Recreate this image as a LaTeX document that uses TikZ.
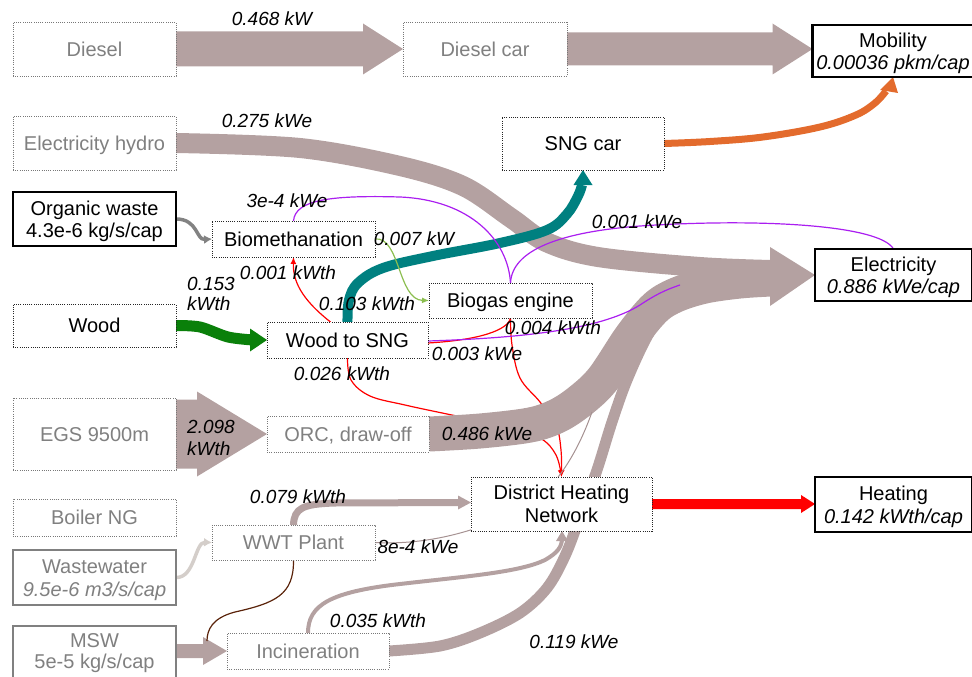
\documentclass[tikz,border=0pt]{standalone}
\usepackage{fontspec}
\setmainfont{Liberation Sans}
\usetikzlibrary{arrows.meta,calc}

\definecolor{flowgrey}{RGB}{180,161,161}
\definecolor{thingrey}{RGB}{165,145,145}
\definecolor{txtgrey}{RGB}{128,128,128}
\definecolor{dotgrey}{RGB}{120,120,120}
\definecolor{sngteal}{RGB}{0,128,128}
\definecolor{carorange}{RGB}{227,107,45}
\definecolor{woodgreen}{RGB}{10,128,10}
\definecolor{elpurple}{RGB}{170,30,240}
\definecolor{heatred}{RGB}{255,0,0}
\definecolor{gasolive}{RGB}{140,190,80}
\definecolor{sludgebrown}{RGB}{90,35,10}
\definecolor{wastegrey}{RGB}{130,130,130}
\definecolor{waterpale}{RGB}{212,206,202}

\newcommand\nodefont{\fontsize{20}{24}\selectfont}
\newcommand\labfont{\fontsize{19}{22}\selectfont\itshape}

\pgfdeclarelayer{under}
\pgfdeclarelayer{flows}
\pgfsetlayers{under,flows,main}

% straight block arrow: #2 start, #3 tip, #4 half shaft, #5 half head, #6 head length
\newcommand\blockarrow[6][flowgrey]{%
  \fill[#1] ($(#2)+(0,-#4)$) -- ($(#3)+(-#6,-#4)$) -- ($(#3)+(-#6,-#5)$) -- (#3)
    -- ($(#3)+(-#6,#5)$) -- ($(#3)+(-#6,#4)$) -- ($(#2)+(0,#4)$) -- cycle;}

\begin{document}
\begin{tikzpicture}[x=1pt,y=-1pt,
  dotbox/.style={draw=black!85, line width=0.9pt, dash pattern=on 0.9pt off 1.3pt,
    fill=white, inner sep=0pt, outer sep=0pt, font=\nodefont,
    text height=14.3pt, text depth=0pt},
  greybox/.style={dotbox, draw=dotgrey, text=txtgrey},
  solidbox/.style={draw=black, line width=2.4pt, fill=white, inner sep=0pt, outer sep=0pt},
  greysolid/.style={solidbox, draw=txtgrey},
  txt/.style={font=\nodefont, anchor=base, inner sep=0pt},
  txti/.style={font=\nodefont\itshape, anchor=base, inner sep=0pt},
  lab/.style={font=\labfont, anchor=base, inner sep=0pt},
  thinflow/.style={line width=1.2pt},
  smalltip/.style={-{Latex[length=7pt,width=6pt]}}]

\useasboundingbox (0,0) rectangle (972,677);

% ---------- units ----------
\node[greybox, minimum width=163pt, minimum height=54pt] (diesel) at (94.5,49) {Diesel};
\node[greybox, minimum width=164pt, minimum height=54pt] (dieselcar) at (485,49) {Diesel car};
\node[solidbox, minimum width=161pt, minimum height=52pt] (mobility) at (893,51) {};
\node[txt] at (893,47.7) {Mobility};
\node[txti] at (893,69.3) {0.00036 pkm/cap};

\node[greybox, minimum width=163pt, minimum height=54pt] (hydro) at (94.5,143) {Electricity hydro};
\node[dotbox, minimum width=162pt, minimum height=53pt] (sngcar) at (583,143.5) {SNG car};

\node[solidbox, minimum width=163pt, minimum height=54pt] (organic) at (94.5,219) {};
\node[txt] at (94.5,215) {Organic waste};
\node[txt] at (94.5,237) {4.3e-6 kg/s/cap};
\node[dotbox, minimum width=163pt, minimum height=36pt] (biometh) at (293.5,239) {Biomethanation};

\node[dotbox, minimum width=163pt, minimum height=43pt] (wood) at (94.5,325.5) {Wood};
\node[dotbox, minimum width=161pt, minimum height=36pt] (woodsng) at (347.5,340) {Wood to SNG};
\node[dotbox, minimum width=163pt, minimum height=35pt] (biogas) at (510.5,300.5) {Biogas engine};

\node[solidbox, minimum width=157pt, minimum height=52pt] (elec) at (893.5,275) {};
\node[txt] at (893.5,271) {Electricity};
\node[txti] at (893.5,293) {0.886 kWe/cap};

\node[greybox, minimum width=163pt, minimum height=72pt] (egs) at (94.5,434) {EGS 9500m};
\node[greybox, minimum width=162pt, minimum height=36pt] (orc) at (348,434) {ORC, draw-off};

\node[dotbox, minimum width=181pt, minimum height=54pt] (dhn) at (561.5,504) {};
\node[txt] at (561.5,499) {District Heating};
\node[txt] at (561.5,522) {Network};
\node[solidbox, minimum width=157pt, minimum height=55pt] (heating) at (893.5,504.5) {};
\node[txt] at (893.5,500.7) {Heating};
\node[txti] at (893.5,523) {0.142 kWth/cap};

\node[greybox, minimum width=163pt, minimum height=37pt] (boiler) at (94.5,517.5) {Boiler NG};
\node[greybox, minimum width=163pt, minimum height=35pt] (wwt) at (293.5,542.5) {WWT Plant};
\node[greysolid, minimum width=163pt, minimum height=55pt] (wastewater) at (94.5,577.5) {};
\node[txt, text=txtgrey] at (94.5,573) {Wastewater};
\node[txti, text=txtgrey] at (94.5,596) {9.5e-6 m3/s/cap};
\node[greysolid, minimum width=163pt, minimum height=52pt] (msw) at (94.5,652) {};
\node[txt, text=txtgrey] at (94.5,647) {MSW};
\node[txt, text=txtgrey] at (94.5,668) {5e-5 kg/s/cap};
\node[greybox, minimum width=162pt, minimum height=36pt] (incin) at (308,651) {Incineration};

% ---------- heat lines running under the electricity band ----------
\begin{pgfonlayer}{under}
\draw[heatred, thinflow, smalltip] plot[smooth, tension=0.6] coordinates
  {(biogas.south) (512,345) (520,378) (540,402) (556,425) (561,450) (dhn.north)};
\draw[heatred, thinflow, smalltip] plot[smooth, tension=0.6] coordinates
  {(woodsng.south) (351,380) (370,396) (405,405) (447,414) (505,426) (540,438) (556,455) (dhn.north)};
\end{pgfonlayer}

\begin{pgfonlayer}{flows}
% electricity bands into the Electricity arrow
\draw[flowgrey, line width=20pt] plot[smooth, tension=0.55] coordinates
  {(hydro.east) (300,148) (400,166) (463,186) (511,218) (546,242) (598,257) (700,267) (771,270)};
\draw[flowgrey, line width=35pt] plot[smooth, tension=0.55] coordinates
  {(orc.east) (480,431) (530,425) (557,416) (580,401) (603,379) (631,337) (655,308) (676,295) (705,286) (740,281) (771,279)};
\draw[flowgrey, line width=11pt] plot[smooth, tension=0.55] coordinates
  {(incin.east) (440,646) (480,633) (520,613) (547,588) (565,556) (580,517) (597,470) (612,422) (627,380) (648,335) (672,300)};
\fill[flowgrey] ($(elec.west)+(-45,-28)$) -- (elec.west) -- ($(elec.west)+(-45,31)$) -- cycle;
\draw[thingrey, line width=1pt] (wwt.east) .. controls (420,545) and (470,535) .. (520,510)
  .. controls (550,495) and (575,460) .. (592,412);

% straight block arrows
\blockarrow{diesel.east}{dieselcar.west}{17.5}{25.5}{40}
\blockarrow{dieselcar.east}{mobility.west |- dieselcar.east}{16.5}{25.5}{40}
\blockarrow{egs.east}{orc.west}{34.5}{42.5}{70}
\blockarrow{msw.east |- incin.west}{incin.west}{7}{14}{24}
\blockarrow[heatred]{dhn.east}{heating.west |- dhn.east}{5}{9}{14}

% heat bands into the district heating network
\draw[flowgrey, line width=7pt] (wwt.north) .. controls (294,508) and (303,504) .. (335,503)
  -- ($(dhn.west)+(-12,-1.5)$);
\fill[flowgrey] ($(dhn.west)+(-13,-8.5)$) -- ($(dhn.west)+(0,-1.5)$) -- ($(dhn.west)+(-13,5.5)$) -- cycle;
\draw[flowgrey, line width=4pt] (incin.north) .. controls (308,605) and (330,592) .. (400,584)
  .. controls (470,576) and (520,572) .. (545,560)
  .. controls (557,553) and (561,548) .. ($(dhn.south)+(0.5,9)$);
\fill[flowgrey] ($(dhn.south)+(-5.5,10)$) -- ($(dhn.south)+(0.5,0)$) -- ($(dhn.south)+(6.5,10)$) -- cycle;

% wood to SNG, SNG to the car, car to mobility
\draw[woodgreen, line width=11pt] plot[smooth] coordinates {(wood.east) (200,327) (228,337) (253,340)};
\fill[woodgreen] ($(woodsng.west)+(-17,-11.5)$) -- (woodsng.west) -- ($(woodsng.west)+(-17,11.5)$) -- cycle;
\draw[sngteal, line width=10pt] plot[smooth, tension=0.6] coordinates
  {(woodsng.north) (349,300) (358,283) (383,268) (433,256) (500,243) (547,230) (567,214) (578,196) (582,185)};
\fill[sngteal] ($(sngcar.south)+(-9.5,15)$) -- (sngcar.south) -- ($(sngcar.south)+(9.5,15)$) -- cycle;
\draw[carorange, line width=7pt] plot[smooth, tension=0.6] coordinates
  {(sngcar.east) (710,141.5) (763,137) (820,127) (856,115) (875,103) (886,91)};
\fill[carorange] ($(mobility.south)+(-13,13)$) -- (mobility.south) -- ($(mobility.south)+(5,16)$) -- cycle;

% thin exchanges
\draw[wastegrey, line width=3.5pt, -{Latex[length=8pt,width=9pt]}]
  (organic.east) .. controls (198,219) and (196,240) .. (biometh.west);
\draw[waterpale, line width=3.5pt, -{Latex[length=8pt,width=9pt]}]
  (wastewater.east) .. controls (195,578) and (195,542) .. (wwt.west);
\draw[sludgebrown, thinflow] (wwt.south) .. controls (294,595) and (275,603) .. (235,612)
  .. controls (212,618) and (207,630) .. ($(incin.west)+(-20,-10)$);
\draw[gasolive, thinflow, smalltip] (biometh.east) .. controls (400,236) and (398,300) .. (biogas.west);
\draw[heatred, thinflow, smalltip] ($(woodsng.north)+(-17,0)$) .. controls (300,298) and (293,280) .. (biometh.south);
\draw[heatred, thinflow] (biogas.south) .. controls (508,330) and (480,340) .. ($(woodsng.east)+(0,3)$);
\draw[elpurple, thinflow] (biometh.north) .. controls (295,200) and (330,195) .. (400,197)
  .. controls (470,200) and (508,240) .. (biogas.north);
\draw[elpurple, thinflow] (biogas.north) .. controls (512,250) and (560,232) .. (640,226)
  .. controls (760,218) and (880,225) .. (elec.north);
\draw[elpurple, thinflow] ($(woodsng.east)+(0,1)$) .. controls (520,338) and (600,330) .. (640,305)
  .. controls (655,295) and (665,290) .. (680,285);
\end{pgfonlayer}

% ---------- flow values ----------
\node[lab] at (272,26) {0.468 kW};
\node[lab] at (267,127) {0.275 kWe};
\node[lab] at (287,207) {3e-4 kWe};
\node[lab] at (414,245) {0.007 kW};
\node[lab] at (288,279) {0.001 kWth};
\node[lab, anchor=base west] at (187,290) {0.153};
\node[lab, anchor=base west] at (187,310) {kWth};
\node[lab] at (367,310.5) {0.103 kWth};
\node[lab] at (637,228) {0.001 kWe};
\node[lab] at (553,334) {0.004 kWth};
\node[lab] at (477,360) {0.003 kWe};
\node[lab] at (342,380) {0.026 kWth};
\node[lab] at (487,440) {0.486 kWe};
\node[lab, anchor=base west] at (187,433) {2.098};
\node[lab, anchor=base west] at (187,455) {kWth};
\node[lab] at (298,503) {0.079 kWth};
\node[lab] at (418,553) {8e-4 kWe};
\node[lab] at (378,627) {0.035 kWth};
\node[lab] at (574,648) {0.119 kWe};

\end{tikzpicture}
\end{document}
